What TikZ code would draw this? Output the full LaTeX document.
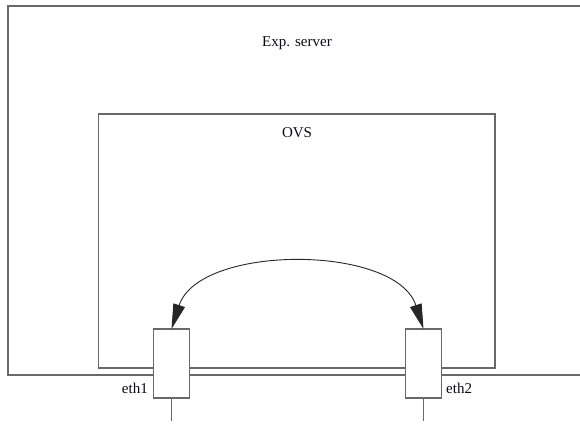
\documentclass[tikz,border=0pt]{standalone}
\usepackage{fontspec}
\setmainfont{Liberation Serif}
\usetikzlibrary{arrows.meta}
\definecolor{edgegray}{RGB}{105,105,105}
\definecolor{txt}{RGB}{10,10,20}
\tikzset{
  boxline/.style={draw=edgegray, line width=1.1pt},
  port/.style={boxline, fill=white, minimum width=36pt, minimum height=69pt, inner sep=0pt, outer sep=0pt},
  lbl/.style={text=txt, font=\fontsize{15}{18}\selectfont, inner sep=0pt},
  swap/.style={draw=black!85, line width=0.9pt, {Triangle[length=25pt,width=12pt]}-{Triangle[length=25pt,width=12pt]}}
}
\begin{document}
\begin{tikzpicture}[x=1pt,y=-1pt]
\useasboundingbox (0,0) rectangle (580,429);
\begin{scope}
\clip (0,0) rectangle (580,429);
% outer server box
\draw[boxline] (8,6) rectangle (590,375);
% inner OVS box
\draw[boxline] (98.5,114) rectangle (495,368);
\end{scope}
\node[lbl] (server) at (297,43) {Exp. server};
\node[lbl] (ovs) at (297,133) {OVS};
% ports
\node[port] (eth1) at (171.5,363.5) {};
\node[port] (eth2) at (423.5,363.5) {};
\node[lbl, anchor=east] (l1) at (148,388) {eth1};
\node[lbl, anchor=west] (l2) at (446,388) {eth2};
% wires below
\coordinate (w1) at (171.5,421);
\coordinate (w2) at (423.5,421);
\draw[boxline] (eth1.south) -- (w1);
\draw[boxline] (eth2.south) -- (w2);
% swap arrow
\draw[swap] (eth1.north) .. controls (199,244) and (396,244) .. (eth2.north);
\end{tikzpicture}
\end{document}
